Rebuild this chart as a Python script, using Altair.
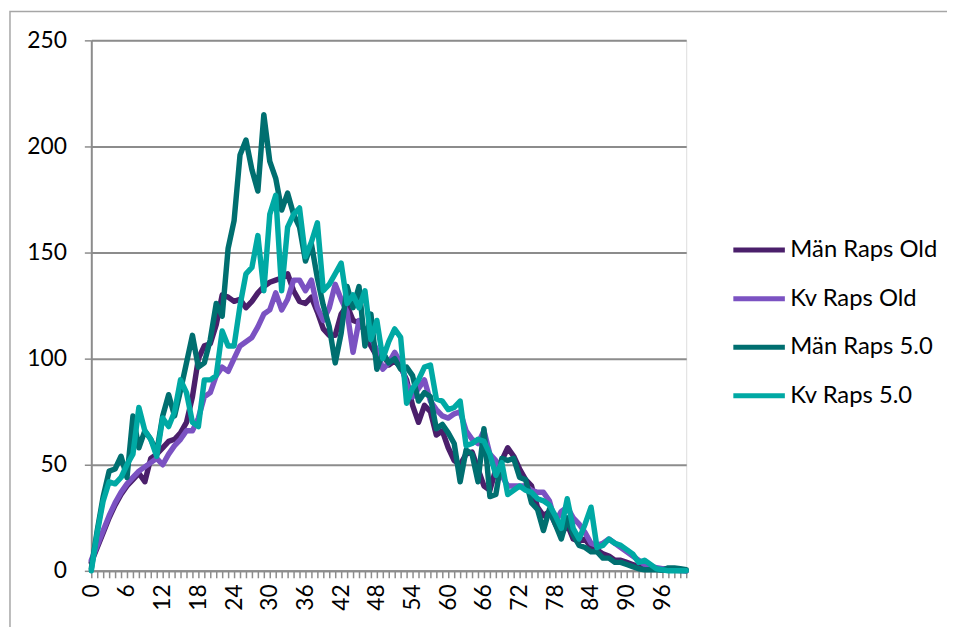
import altair as alt
import pandas as pd

ages = list(range(0, 101))

man_old = [4, 11, 18, 25, 31, 36, 40, 43, 46, 42, 53, 55, 58, 61, 62, 65, 70, 82, 100, 106,
           107, 116, 130, 129, 127, 128, 124, 127, 131, 134, 136, 137, 138, 140, 132, 127, 126, 129, 122, 114,
           111, 111, 121, 125, 118, 117, 113, 106, 101, 103, 97, 99, 96, 90, 78, 70, 78, 75, 64, 66,
           58, 52, 50, 55, 56, 48, 40, 38, 48, 52, 58, 54, 48, 43, 40, 30, 26, 28, 22, 17,
           22, 15, 14, 15, 11, 10, 8, 7, 5, 5, 4, 3, 2, 1.5, 1, 1, 0.5, 0.5, 0.3, 0.2, 0]

kv_old = [5, 12, 19, 26, 32, 37, 41, 44, 47, 49, 51, 53, 50, 55, 59, 62, 66, 66, 72, 82,
          84, 92, 96, 94, 100, 106, 108, 110, 115, 121, 123, 131, 123, 128, 137, 137, 132, 137, 124, 118,
          124, 135, 128, 122, 103, 118, 113, 110, 104, 95, 98, 103, 98, 88, 82, 86, 90, 80, 76, 73,
          72, 74, 75, 66, 62, 60, 66, 55, 52, 45, 40, 40, 40, 40, 38, 37, 37, 33, 23, 28,
          30, 25, 22, 18, 13, 12, 13, 15, 13, 11, 9, 7, 5, 3, 2, 1.5, 1, 1, 0.5, 0.5, 0]

man_50 = [1, 19, 35, 47, 48, 54, 44, 73, 58, 66, 62, 56, 73, 83, 73, 85, 98, 111, 96, 98,
          109, 126, 120, 152, 165, 196, 203, 189, 179, 215, 193, 185, 170, 178, 168, 162, 146, 154, 138, 125,
          115, 98, 112, 134, 124, 134, 106, 121, 95, 103, 98, 100, 95, 96, 92, 80, 84, 82, 67, 69,
          65, 60, 42, 57, 55, 42, 67, 35, 36, 53, 52, 53, 44, 43, 32, 29, 19, 29, 22, 15,
          25, 17, 12, 11, 9, 9, 6, 6, 4, 4, 3, 2, 1, 0.5, 0.5, 0.5, 0.3, 1.4, 1.4, 1, 0.5]

kv_50 = [0, 18, 33, 42, 41, 44, 50, 55, 77, 66, 62, 54, 72, 68, 75, 90, 84, 70, 68, 90,
         90, 92, 113, 106, 106, 125, 140, 143, 158, 132, 168, 177, 132, 162, 168, 171, 148, 155, 164, 132,
         135, 140, 145, 126, 130, 124, 132, 109, 118, 100, 108, 114, 110, 79, 86, 90, 96, 97, 81, 80,
         76, 77, 80, 59, 60, 62, 61, 55, 45, 51, 36, 38, 40, 38, 37, 34, 33, 31, 26, 20,
         34, 20, 15, 22, 30, 11, 12, 15, 13, 12, 10, 8, 4, 5, 3, 1, 0.5, 0, 0, 0, 0]

series_names = ["Män Raps Old", "Kv Raps Old", "Män Raps 5.0", "Kv Raps 5.0"]
series_values = [man_old, kv_old, man_50, kv_50]
series_colors = ["#4b1f6b", "#7b52c2", "#006f70", "#00a9a4"]

y_ticks = [0, 50, 100, 150, 200, 250]

rows = []
for name, vals in zip(series_names, series_values):
    for a, v in zip(ages, vals):
        rows.append({"age": a, "value": v, "series": name})
df = pd.DataFrame(rows)

FONT = "Lato"
GRID = "#8c8c8c"

lines = alt.Chart(df).mark_line(strokeWidth=5.5, strokeJoin="round", strokeCap="round").encode(
    x=alt.X("age:Q",
            scale=alt.Scale(domain=[0, 100], nice=False, zero=False),
            axis=alt.Axis(values=ages, title=None, grid=False,
                          labelExpr="datum.value % 6 == 0 ? datum.label : ''",
                          labelAngle=270, labelAlign="right", labelBaseline="middle",
                          labelFont=FONT, labelFontSize=23, labelColor="#000000",
                          labelPadding=6, labelOverlap=False, labelFlush=False,
                          tickSize=7, tickColor=GRID, tickWidth=1.5,
                          domainColor=GRID, domainWidth=2)),
    y=alt.Y("value:Q",
            scale=alt.Scale(domain=[0, 250], nice=False),
            axis=alt.Axis(values=y_ticks, title=None, grid=True, gridColor=GRID, gridWidth=2,
                          labelFont=FONT, labelFontSize=23, labelColor="#000000",
                          labelPadding=18, tickSize=7, tickColor=GRID, tickWidth=1.5,
                          domainColor=GRID, domainWidth=2)),
    color=alt.Color("series:N",
                    scale=alt.Scale(domain=series_names, range=series_colors),
                    sort=series_names,
                    legend=alt.Legend(title=None, orient="none", legendX=645, legendY=183,
                                      symbolType="stroke", symbolStrokeWidth=5, symbolSize=2700,
                                      labelFont=FONT, labelFontSize=24, labelColor="#000000",
                                      labelOffset=3, rowPadding=8)),
)

border = alt.Chart(alt.Data(values=[{}])).mark_rect(filled=False, stroke="#a6a6a6", strokeWidth=1.5).encode(
    x=alt.value(-82), x2=alt.value(900), y=alt.value(-29), y2=alt.value(620)
)

chart = alt.layer(border, lines).properties(
    width=600, height=535,
    autosize=alt.AutoSizeParams(type="none"),
    padding={"left": 84, "top": 30, "right": 263, "bottom": 54},
).configure_view(strokeWidth=0).configure(background="white")

chart.save("out.html", embed_options={"renderer": "svg", "actions": False})
